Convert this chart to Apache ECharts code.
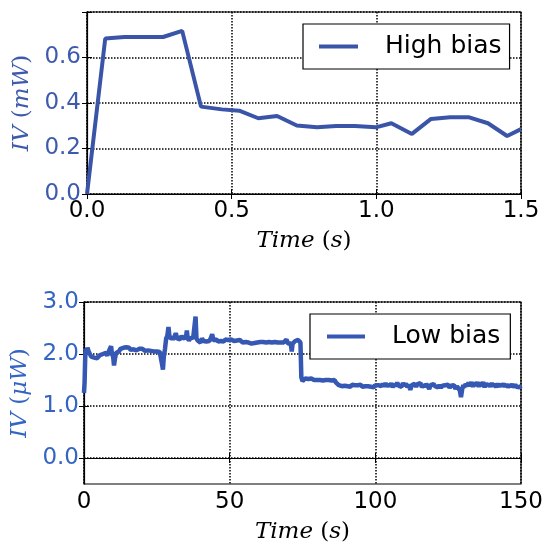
<!DOCTYPE html>
<html>
<head>
<meta charset="utf-8">
<script src="https://cdn.jsdelivr.net/npm/echarts/dist/echarts.min.js"></script>
<style>
html,body{margin:0;padding:0;background:#fff;}
#chart{width:544px;height:545px;}
</style>
</head>
<body>
<div id="chart"></div>
<script>
// ---- Data ----
const highBiasTime = [0, 0.063, 0.129, 0.263, 0.329, 0.394, 0.466, 0.526, 0.592, 0.657, 0.725, 0.795, 0.861, 0.926, 0.998, 1.052, 1.123, 1.189, 1.255, 1.321, 1.386, 1.452, 1.5];
const highBiasIV   = [0, 0.683, 0.690, 0.690, 0.717, 0.384, 0.372, 0.366, 0.333, 0.343, 0.301, 0.293, 0.299, 0.299, 0.293, 0.311, 0.264, 0.330, 0.337, 0.337, 0.311, 0.255, 0.285];

const lowBias = [
[0,1.25],[0.2,1.45],[0.4,1.9],[0.6,2.1],[0.9,2.05],[1.2,2.12],[1.6,2.05],[2.0,2.0],[2.5,1.95],[3,1.97],[3.5,1.93],[4,1.95],[4.5,1.92],[5,1.95],[5.5,1.98],[6,1.95],[6.5,2.0],[7,1.98],[7.5,2.02],[8,1.97],[8.5,2.05],[9,2.02],[9.3,2.15],[9.6,2.0],[10,1.95],[10.3,1.78],[10.6,1.9],[11,2.02],[11.5,2.0],[12,2.05],[12.5,2.1],[13,2.08],[13.5,2.12],[14,2.1],[14.5,2.13],[15,2.1],[15.5,2.12],[16,2.08],[16.5,2.1],[17,2.09],[17.5,2.1],[18,2.07],[18.5,2.1],[19,2.1],[19.5,2.08],[20,2.1],[20.5,2.08],[21,2.06],[21.5,2.09],[22,2.07],[22.5,2.1],[23,2.06],[23.5,2.08],[24,2.05],[24.5,2.07],[25,2.05],[25.5,2.06],[26,2.04],[26.4,2.07],[26.8,1.8],[27.1,1.7],[27.4,1.95],[27.8,2.1],[28.2,2.3],[28.6,2.35],[29,2.52],[29.4,2.3],[29.8,2.27],[30.2,2.32],[30.6,2.28],[31,2.32],[31.5,2.4],[32,2.3],[32.5,2.33],[33,2.28],[33.5,2.35],[34,2.3],[34.5,2.27],[35,2.32],[35.3,2.45],[35.6,2.3],[36,2.26],[36.5,2.3],[37,2.28],[37.5,2.32],[38,2.3],[38.3,2.72],[38.6,2.3],[39,2.26],[39.5,2.28],[40,2.22],[40.5,2.3],[41,2.25],[41.5,2.28],[42,2.24],[42.5,2.27],[43,2.25],[43.5,2.3],[44,2.38],[44.4,2.26],[45,2.25],[45.5,2.28],[46,2.24],[46.5,2.27],[47,2.25],[47.5,2.27],[48,2.24],[48.5,2.28],[49,2.26],[49.5,2.27],[50,2.25],[50.5,2.28],[51,2.27],[51.5,2.25],[52,2.28],[52.5,2.26],[53,2.24],[53.5,2.27],[54,2.25],[54.5,2.22],[55,2.25],[55.5,2.23],[56,2.26],[56.5,2.22],[57,2.24],[57.5,2.2],[58,2.23],[58.5,2.21],[59,2.24],[59.5,2.22],[60,2.2],[60.5,2.23],[61,2.21],[61.5,2.23],[62,2.2],[62.5,2.22],[63,2.21],[63.5,2.23],[64,2.2],[64.5,2.22],[65,2.21],[65.5,2.23],[66,2.2],[66.5,2.22],[67,2.19],[67.5,2.22],[68,2.2],[68.5,2.22],[69,2.21],[69.5,2.28],[70,2.2],[70.5,2.22],[71,2.2],[71.3,2.05],[71.6,2.2],[72,2.22],[72.5,2.25],[73,2.23],[73.5,2.27],[74,2.25],[74.3,2.22],[74.6,1.55],[75,1.48],[75.5,1.5],[76,1.53],[76.5,1.5],[77,1.52],[77.5,1.5],[78,1.53],[78.5,1.51],[79,1.5],[79.5,1.52],[80,1.5],[80.5,1.53],[81,1.5],[81.5,1.52],[82,1.49],[82.5,1.51],[83,1.5],[83.5,1.48],[84,1.5],[84.5,1.47],[85,1.49],[85.5,1.46],[86,1.5],[86.5,1.45],[87,1.43],[87.5,1.4],[88,1.42],[88.5,1.38],[89,1.41],[89.5,1.39],[90,1.42],[90.5,1.38],[91,1.4],[91.5,1.37],[92,1.41],[92.5,1.38],[93,1.4],[93.5,1.37],[94,1.4],[94.5,1.38],[95,1.41],[95.5,1.37],[96,1.4],[96.5,1.38],[97,1.41],[97.5,1.38],[98,1.4],[98.5,1.37],[99,1.39],[99.5,1.36],[100,1.4],[100.5,1.37],[101,1.4],[101.5,1.43],[102,1.38],[102.5,1.42],[103,1.38],[103.5,1.44],[104,1.37],[104.5,1.42],[105,1.38],[105.5,1.44],[106,1.36],[106.5,1.42],[107,1.38],[107.5,1.45],[108,1.39],[108.5,1.42],[109,1.37],[109.5,1.44],[110,1.39],[110.5,1.43],[111,1.36],[111.5,1.41],[112,1.31],[112.5,1.4],[113,1.38],[113.5,1.43],[114,1.37],[114.5,1.42],[115,1.39],[115.5,1.44],[116,1.36],[116.5,1.41],[117,1.37],[117.5,1.42],[118,1.38],[118.5,1.33],[119,1.4],[119.5,1.37],[120,1.42],[120.5,1.38],[121,1.41],[121.5,1.36],[122,1.4],[122.5,1.35],[123,1.39],[123.5,1.36],[124,1.4],[124.5,1.37],[125,1.41],[125.5,1.35],[126,1.39],[126.5,1.36],[127,1.4],[127.5,1.33],[128,1.38],[128.5,1.35],[129,1.3],[129.4,1.17],[129.8,1.32],[130.2,1.4],[130.5,1.36],[131,1.42],[131.5,1.38],[132,1.45],[132.5,1.38],[133,1.46],[133.5,1.37],[134,1.45],[134.5,1.39],[135,1.46],[135.5,1.37],[136,1.45],[136.5,1.38],[137,1.46],[137.5,1.36],[138,1.44],[138.5,1.38],[139,1.43],[139.5,1.37],[140,1.44],[140.5,1.38],[141,1.42],[141.5,1.36],[142,1.43],[142.5,1.37],[143,1.42],[143.5,1.38],[144,1.43],[144.5,1.37],[145,1.42],[145.5,1.36],[146,1.41],[146.5,1.37],[147,1.42],[147.5,1.36],[148,1.41],[148.5,1.37],[149,1.4],[149.5,1.36],[150,1.39]
];

const topXTicks = [0, 0.5, 1.0, 1.5];
const topYTicks = [0, 0.2, 0.4, 0.6, 0.8];
const botXTicks = [0, 50, 100, 150];
const botYTicks = [0, 1, 2, 3];

// ---- Styles ----
const topBlue = '#3a55a8';
const botBlue = '#3558b4';
const topLabelBlue = '#3d5aad';
const botLabelBlue = '#3465c2';
const tickFont = 'DejaVu Sans';
function gridLine() { return { show: true, lineStyle: { color: '#000', width: 1.5, type: 'dotted', opacity: 1 } }; }
function tickIn(custom) {
  return { show: true, inside: true, length: 5, customValues: custom, lineStyle: { color: '#000', width: 1 } };
}
function nameRich(size, color) {
  return {
    color: color,
    rich: {
      i: { fontFamily: 'DejaVu Serif', fontStyle: 'italic', fontSize: size, color: color },
      u: { fontFamily: 'DejaVu Serif', fontSize: size, color: color }
    }
  };
}
const axisLineBlack = { show: true, lineStyle: { color: '#000', width: 1.2 } };

const chart = echarts.init(document.getElementById('chart'), null, { renderer: 'canvas' });

const option = {
  animation: false,
  backgroundColor: '#fff',
  grid: [
    { left: 87, top: 12, width: 434, height: 182, show: true, borderColor: '#000', borderWidth: 1.2, backgroundColor: 'rgba(0,0,0,0)', outerBoundsMode: 'none', containLabel: false },
    { left: 84, top: 302, width: 437, height: 182, show: true, borderColor: '#000', borderWidth: 1.2, backgroundColor: 'rgba(0,0,0,0)', outerBoundsMode: 'none', containLabel: false }
  ],
  legend: [
    {
      data: ['High bias'], left: 303, top: 24, orient: 'horizontal',
      icon: 'rect', itemWidth: 39, itemHeight: 4,
      padding: [10, 8, 10, 16], borderColor: '#000', borderWidth: 1.2, backgroundColor: '#fff',
      textStyle: { fontFamily: tickFont, fontSize: 25, color: '#000', padding: [0, 0, 0, 22] }
    },
    {
      data: ['Low bias'], left: 310, top: 314, orient: 'horizontal',
      icon: 'rect', itemWidth: 38, itemHeight: 4,
      padding: [10, 10, 10, 17], borderColor: '#000', borderWidth: 1.2, backgroundColor: '#fff',
      textStyle: { fontFamily: tickFont, fontSize: 25, color: '#000', padding: [0, 0, 0, 22] }
    }
  ],
  xAxis: [
    {
      gridIndex: 0, type: 'value', min: 0, max: 1.5,
      axisLine: axisLineBlack,
      axisTick: tickIn(topXTicks), splitLine: gridLine(),
      axisLabel: { margin: 6, fontFamily: tickFont, fontSize: 23, color: '#000', customValues: topXTicks, formatter: v => v.toFixed(1) },
      name: '{i|Time}{u| (}{i|s}{u|)}', nameLocation: 'middle', nameGap: 36,
      nameTextStyle: nameRich(23, '#000')
    },
    {
      gridIndex: 0, type: 'value', position: 'top', min: 0, max: 1.5,
      axisLine: { show: false }, axisTick: tickIn(topXTicks), axisLabel: { show: false }, splitLine: { show: false }
    },
    {
      gridIndex: 1, type: 'value', min: 0, max: 150,
      axisLine: axisLineBlack,
      axisTick: tickIn(botXTicks), splitLine: gridLine(),
      axisLabel: { margin: 7, fontFamily: tickFont, fontSize: 23, color: '#000', customValues: botXTicks },
      name: '{i|Time}{u| (}{i|s}{u|)}', nameLocation: 'middle', nameGap: 37,
      nameTextStyle: nameRich(23, '#000')
    },
    {
      gridIndex: 1, type: 'value', position: 'top', min: 0, max: 150,
      axisLine: { show: false }, axisTick: tickIn(botXTicks), axisLabel: { show: false }, splitLine: { show: false }
    }
  ],
  yAxis: [
    {
      gridIndex: 0, type: 'value', min: 0, max: 0.8,
      axisLine: axisLineBlack,
      axisTick: tickIn(topYTicks), splitLine: gridLine(),
      axisLabel: { margin: 6, fontFamily: tickFont, fontSize: 23, color: topLabelBlue, customValues: topYTicks, formatter: v => (v > 0.75 ? '' : v.toFixed(1)) },
      name: '{i|IV}{u| (}{i|mW}{u|)}', nameLocation: 'middle', nameGap: 51,
      nameTextStyle: nameRich(23, topLabelBlue)
    },
    {
      gridIndex: 0, type: 'value', position: 'right', min: 0, max: 0.8,
      axisLine: { show: false }, axisTick: tickIn(topYTicks), axisLabel: { show: false }, splitLine: { show: false }
    },
    {
      gridIndex: 1, type: 'value', min: -0.5, max: 3.0,
      axisLine: axisLineBlack,
      axisTick: tickIn(botYTicks),
      splitLine: gridLine(),
      axisLabel: { margin: 5, fontFamily: tickFont, fontSize: 23, color: botLabelBlue, customValues: botYTicks, formatter: v => v.toFixed(1) },
      name: '{i|IV}{u| (}{i|μW}{u|)}', nameLocation: 'middle', nameGap: 49,
      nameTextStyle: nameRich(23, botLabelBlue)
    },
    {
      gridIndex: 1, type: 'value', position: 'right', min: -0.5, max: 3.0,
      axisLine: { show: false }, axisTick: tickIn(botYTicks),
      axisLabel: { show: false }, splitLine: { show: false }
    }
  ],
  series: [
    {
      name: 'High bias', type: 'line', xAxisIndex: 0, yAxisIndex: 0,
      data: highBiasTime.map((t, i) => [t, highBiasIV[i]]),
      showSymbol: false, symbol: 'none', color: topBlue,
      lineStyle: { color: topBlue, width: 4 }, z: 5
    },
    {
      name: 'Low bias', type: 'line', xAxisIndex: 2, yAxisIndex: 2,
      data: lowBias,
      showSymbol: false, symbol: 'none', color: botBlue,
      lineStyle: { color: botBlue, width: 4.5 }, z: 5
    }
  ]
};
chart.setOption(option);
</script>
</body>
</html>
